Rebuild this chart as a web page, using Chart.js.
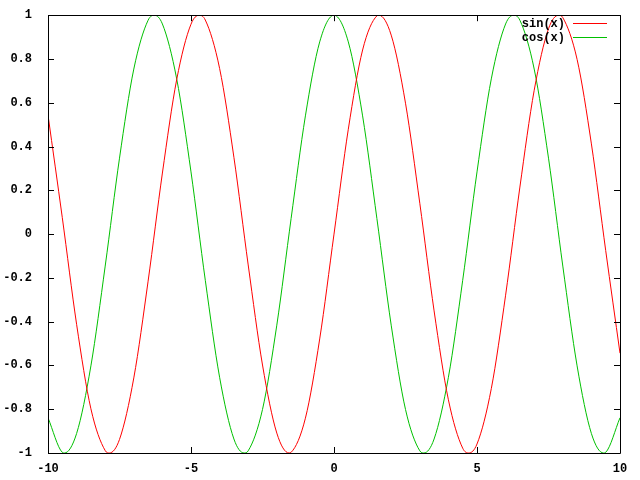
<!DOCTYPE html>
<html><head><meta charset="utf-8">
<script src="https://cdn.jsdelivr.net/npm/chart.js@4/dist/chart.umd.min.js"></script>
<style>html,body{margin:0;padding:0;background:#fff}#wrap{width:640px;height:480px}</style>
</head><body><div id="wrap"><canvas id="c"></canvas></div>
<script>
const sinX = [-10,-9.5,-9,-8.5,-8,-7.854,-7.5,-7,-6.5,-6,-5.5,-5,-4.712,-4.5,-4,-3.5,-3,-2.5,-2,-1.571,-1.5,-1,-0.5,0,0.5,1,1.5,1.571,2,2.5,3,3.5,4,4.5,4.712,5,5.5,6,6.5,7,7.5,7.854,8,8.5,9,9.5,10];
const sinY = [0.544,0.075,-0.412,-0.798,-0.989,-1,-0.938,-0.657,-0.215,0.279,0.706,0.959,1,0.978,0.757,0.351,-0.141,-0.598,-0.909,-1,-0.997,-0.841,-0.479,0,0.479,0.841,0.997,1,0.909,0.598,0.141,-0.351,-0.757,-0.978,-1,-0.959,-0.706,-0.279,0.215,0.657,0.938,1,0.989,0.798,0.412,-0.075,-0.544];
const cosX = [-10,-9.5,-9.425,-9,-8.5,-8,-7.5,-7,-6.5,-6.283,-6,-5.5,-5,-4.5,-4,-3.5,-3.142,-3,-2.5,-2,-1.5,-1,-0.5,0,0.5,1,1.5,2,2.5,3,3.142,3.5,4,4.5,5,5.5,6,6.283,6.5,7,7.5,8,8.5,9,9.425,9.5,10];
const cosY = [-0.839,-0.997,-1,-0.911,-0.602,-0.146,0.347,0.754,0.977,1,0.960,0.709,0.284,-0.211,-0.654,-0.936,-1,-0.990,-0.801,-0.416,0.071,0.540,0.878,1,0.878,0.540,0.071,-0.416,-0.801,-0.990,-1,-0.936,-0.654,-0.211,0.284,0.709,0.960,1,0.977,0.754,0.347,-0.146,-0.602,-0.911,-1,-0.997,-0.839];
const xTicks = [-10,-5,0,5,10];
const yTicks = [-1,-0.8,-0.6,-0.4,-0.2,0,0.2,0.4,0.6,0.8,1];
const seriesNames = ['sin(x)','cos(x)'];
const seriesColors = ['#ff0000','#00c000'];

const FONT = "bold 12px 'Liberation Mono', 'DejaVu Sans Mono', monospace";
const pts = (xs, ys) => xs.map((x, i) => ({x, y: ys[i]}));

const framePlugin = {
  id: 'frame',
  afterDatasetsDraw(chart) {
    const {ctx, chartArea: a, scales: {x, y}} = chart;
    ctx.save();
    ctx.strokeStyle = '#000';
    ctx.lineWidth = 1;
    ctx.beginPath();
    ctx.rect(Math.round(a.left) + 0.5, Math.round(a.top) + 0.5, Math.round(a.right - a.left), Math.round(a.bottom - a.top));
    ctx.stroke();
    ctx.beginPath();
    const L = 6;
    yTicks.forEach(v => {
      const py = Math.round(y.getPixelForValue(v)) + 0.5;
      ctx.moveTo(a.left, py); ctx.lineTo(a.left + L, py);
      ctx.moveTo(a.right, py); ctx.lineTo(a.right - L, py);
    });
    xTicks.forEach(v => {
      const px = Math.round(x.getPixelForValue(v)) + 0.5;
      ctx.moveTo(px, a.bottom); ctx.lineTo(px, a.bottom - L);
      ctx.moveTo(px, a.top); ctx.lineTo(px, a.top + L);
    });
    ctx.stroke();
    // legend
    ctx.font = FONT;
    ctx.textAlign = 'right';
    ctx.textBaseline = 'middle';
    seriesNames.forEach((n, i) => {
      const ly = 23 + i * 14;
      ctx.fillStyle = '#000';
      ctx.fillText(n, 565, ly + 1);
      ctx.fillStyle = seriesColors[i];
      ctx.fillRect(573, ly, 34, 1);
    });
    ctx.restore();
  }
};

new Chart(document.getElementById('c'), {
  type: 'scatter',
  data: {
    datasets: [
      {label: seriesNames[0], data: pts(sinX, sinY), showLine: true, borderColor: seriesColors[0], borderWidth: 1, pointRadius: 0, cubicInterpolationMode: 'monotone'},
      {label: seriesNames[1], data: pts(cosX, cosY), showLine: true, borderColor: seriesColors[1], borderWidth: 1, pointRadius: 0, cubicInterpolationMode: 'monotone'}
    ]
  },
  options: {
    responsive: true, maintainAspectRatio: false, animation: false,
    devicePixelRatio: 1,
    layout: {padding: {top: 14, right: 20, left: 0, bottom: 0}},
    plugins: {legend: {display: false}, tooltip: {enabled: false}},
    scales: {
      x: {
        type: 'linear', min: -10, max: 10,
        afterBuildTicks: s => { s.ticks = xTicks.map(v => ({value: v})); },
        afterFit: s => { s.height = 27; },
        grid: {display: false}, border: {display: false},
        ticks: {color: '#000', font: {family: "'Liberation Mono'", size: 12, weight: 'bold'}, padding: 1, maxRotation: 0, callback: v => String(v)}
      },
      y: {
        type: 'linear', min: -1, max: 1,
        afterBuildTicks: s => { s.ticks = yTicks.map(v => ({value: v})); },
        afterFit: s => { s.width = 48; },
        grid: {display: false}, border: {display: false},
        ticks: {color: '#000', font: {family: "'Liberation Mono'", size: 12, weight: 'bold'}, padding: 8, callback: v => String(Math.round(v * 10) / 10)}
      }
    }
  },
  plugins: [framePlugin]
});
</script>
</body></html>
